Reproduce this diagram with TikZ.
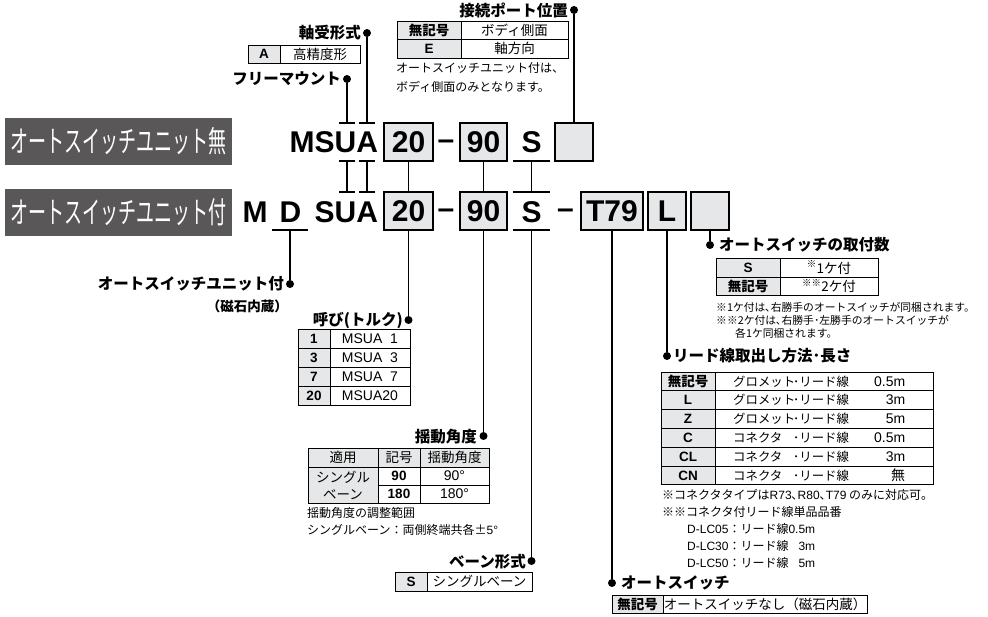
\documentclass[tikz,border=0pt]{standalone}
\usepackage{fontspec}
\setmainfont{Noto Sans CJK JP}
\newfontfamily\lat{Liberation Sans}
\newfontfamily\cond[FakeStretch=0.6]{Noto Sans CJK JP}
\definecolor{panel}{RGB}{89,87,87}
\definecolor{keygray}{RGB}{230,231,232}
\newcommand{\codefont}{\fontsize{30}{30}\selectfont\lat\bfseries}
\newcommand{\headfont}{\fontsize{15.5}{16}\selectfont\bfseries}
\newcommand{\cellfont}{\fontsize{13.5}{17}\selectfont}
\newcommand{\leadfont}{\fontsize{12.4}{14}\selectfont}
\newcommand{\notefont}{\fontsize{12}{13}\selectfont}
\newcommand{\smallnote}{\fontsize{10.8}{12}\selectfont}

\begin{document}
\begin{tikzpicture}[x=1pt, y=-1pt]
  \tikzstyle{panelbox} = [fill=panel, text=white, inner sep=0pt, minimum width=227, minimum height=47, font=\fontsize{30}{30}\selectfont\cond]
  \tikzstyle{code} = [inner sep=0pt, outer sep=0pt, font=\codefont]
  \tikzstyle{codebox} = [code, draw, line width=1.6, fill=keygray, minimum height=38]
  \tikzstyle{link} = [line width=1.3]
  \tikzstyle{dot} = [circle, fill=black, inner sep=0pt, minimum size=8]
  \tikzstyle{head} = [inner sep=0pt, font=\headfont]
  \tikzstyle{keycell} = [draw, line width=0.9, fill=keygray, inner sep=0pt, outer sep=0pt, anchor=north west, font=\cellfont\bfseries]
  \tikzstyle{txtcell} = [draw, line width=0.9, fill=white, inner sep=0pt, outer sep=0pt, anchor=north west, font=\cellfont]
  \tikzstyle{note} = [inner sep=0pt, anchor=west, font=\notefont]

  \fill[white] (0,0) rectangle (988,617);
  \useasboundingbox (0,0) rectangle (988,617);

  % left panels
  \node[panelbox] (unitNo) at (118.5,141.5) {オートスイッチユニット無};
  \node[panelbox] (unitWith) at (118.5,212.5) {オートスイッチユニット付};

  % code without unit
  \node[code, anchor=east] (msua) at (378,142) {MSUA};
  \node[codebox, minimum width=49] (sizeA) at (408.5,142) {20};
  \node[code, anchor=base] (dashA) at (446,150) {–};
  \node[codebox, minimum width=47] (angleA) at (483.5,142) {90};
  \node[code] (vaneA) at (531.5,142) {S};
  \node[codebox, minimum width=38] (portA) at (574,142) {};

  % code with unit
  \node[code] (mB) at (255,212) {M};
  \node[code] (dB) at (290.5,212) {D};
  \node[code, anchor=east] (suaB) at (378,212) {SUA};
  \node[codebox, minimum width=49] (sizeB) at (408.5,211) {20};
  \node[code, anchor=base] (dashB) at (446,219) {–};
  \node[codebox, minimum width=47] (angleB) at (483.5,211) {90};
  \node[code] (vaneB) at (531.5,212) {S};
  \node[code, anchor=base] (dashC) at (565.5,219) {–};
  \node[codebox, minimum width=62] (switchB) at (612,211) {T79};
  \node[codebox, minimum width=38] (leadB) at (667,211) {L};
  \node[codebox, minimum width=38] (countB) at (710,211) {};

  % bars under the letters
  \coordinate (uTop) at (347,123);
  \coordinate (aTop) at (367,123);
  \coordinate (uA) at (347,161);
  \coordinate (uB) at (347,192);
  \coordinate (aA) at (367,161);
  \coordinate (aB) at (367,192);
  \coordinate (sA) at (531.5,161);
  \coordinate (sB) at (531.5,192);
  \coordinate (sC) at (531.5,230);
  \coordinate (dLow) at (290,230);
  \foreach \c/\w in {uTop/8, aTop/8, uA/8, uB/8, aA/8, aB/8, sA/18.5, sB/18.5, sC/18.5, dLow/18} {
    \draw[link] ([xshift=-\w]\c) -- ([xshift=\w]\c);
  }

  % dots
  \node[dot] (dFree) at (347,79) {};
  \node[dot] (dBear) at (367,33) {};
  \node[dot] (dPort) at (574,10) {};
  \node[dot] (dUnit) at (290,284) {};
  \node[dot] (dSize) at (408.5,320) {};
  \node[dot] (dAngle) at (483.5,436) {};
  \node[dot] (dVane) at (531.5,561) {};
  \node[dot] (dSwitch) at (612,583) {};
  \node[dot] (dLead) at (667,356) {};
  \node[dot] (dCount) at (710,245) {};

  % connectors
  \draw[link] (dFree) -- (uTop);
  \draw[link] (dBear) -- (aTop);
  \draw[link] (dPort) -- (portA);
  \draw[link] (uA) -- (uB);
  \draw[link] (aA) -- (aB);
  \draw[link] (sizeA) -- (sizeB);
  \draw[link] (angleA) -- (angleB);
  \draw[link] (sA) -- (sB);
  \draw[link] (dLow) -- (dUnit);
  \draw[link] (sizeB) -- (dSize);
  \draw[link] (angleB) -- (dAngle);
  \draw[link] (sC) -- (dVane);
  \draw[link] (switchB) -- (dSwitch);
  \draw[link] (leadB) -- (dLead);
  \draw[link] (countB) -- (dCount);

  % headings
  \node[head, anchor=east] (hBear) at (361,33) {軸受形式};
  \node[head, anchor=east] (hFree) at (341,79) {フリーマウント};
  \node[head, anchor=east] (hPort) at (568,10) {接続ポート位置};
  \node[head, anchor=east] (hUnit) at (284,284) {オートスイッチユニット付};
  \node[head, anchor=east, font=\fontsize{13.5}{14}\selectfont\bfseries] (hMag) at (288,306) {（磁石内蔵）};
  \node[head, anchor=east] (hSize) at (403,320) {呼び(トルク)};
  \node[head, anchor=east] (hAngle) at (477,437) {揺動角度};
  \node[head, anchor=east] (hVane) at (526,562) {ベーン形式};
  \node[head, anchor=west] (hCount) at (719,245) {オートスイッチの取付数};
  \node[head, anchor=west] (hLead) at (673,356) {リード線取出し方法･長さ};
  \node[head, anchor=west] (hSwitch) at (621,583) {オートスイッチ};

  % bearing
  \node[keycell, font=\cellfont\lat\bfseries, minimum width=32, minimum height=18] (kBear) at (248,45) {A};
  \node[txtcell, minimum width=80, minimum height=18] (tBear) at (kBear.north east) {高精度形};

  % port
  \node[keycell, minimum width=64, minimum height=18.5] (kPort1) at (397,21) {無記号};
  \node[txtcell, minimum width=107, minimum height=18.5] (tPort1) at (kPort1.north east) {ボディ側面};
  \node[keycell, font=\cellfont\lat\bfseries, minimum width=64, minimum height=18.5] (kPort2) at (kPort1.south west) {E};
  \node[txtcell, minimum width=107, minimum height=18.5] (tPort2) at (kPort2.north east) {軸方向};
  \node[note] (nPort1) at (396,68) {オートスイッチユニット付は、};
  \node[note] (nPort2) at (396,87) {ボディ側面のみとなります。};

  % size
  \foreach \k [count=\i] in {1,3,7,20} {
    \node[keycell, font=\cellfont\lat\bfseries, minimum width=32, minimum height=19] (kSize\i) at (298,{329+19*(\i-1)}) {\k};
    \node[txtcell, font=\fontsize{14}{15}\selectfont\lat, minimum width=80, minimum height=19] (tSize\i) at (kSize\i.north east) {MSUA\hphantom{20}\llap{\k}};
  }

  % angle
  \node[keycell, font=\cellfont, minimum width=70, minimum height=19] (hdApply) at (308,448) {適用};
  \node[keycell, font=\cellfont, minimum width=42, minimum height=19] (hdSym) at (hdApply.north east) {記号};
  \node[keycell, font=\cellfont, minimum width=69, minimum height=19] (hdAng) at (hdSym.north east) {揺動角度};
  \node[keycell, font=\cellfont, minimum width=70, minimum height=36, align=center] (cApply) at (hdApply.south west) {シングル\\ベーン};
  \node[txtcell, font=\cellfont\lat\bfseries, minimum width=42, minimum height=18] (s90) at (cApply.north east) {90};
  \node[txtcell, font=\cellfont\lat\bfseries, minimum width=42, minimum height=18] (s180) at (s90.south west) {180};
  \node[txtcell, font=\fontsize{14}{15}\selectfont\lat, minimum width=69, minimum height=18] (a90) at (s90.north east) {90°};
  \node[txtcell, font=\fontsize{14}{15}\selectfont\lat, minimum width=69, minimum height=18] (a180) at (a90.south west) {180°};
  \node[note] (nAngle1) at (307,513) {揺動角度の調整範囲};
  \node[note] (nAngle2) at (307,530) {シングルベーン：両側終端共各±{\lat 5°}};

  % vane
  \node[keycell, font=\cellfont\lat\bfseries, minimum width=32, minimum height=19] (kVane) at (395,572) {S};
  \node[txtcell, minimum width=105, minimum height=19] (tVane) at (kVane.north east) {シングルベーン};

  % switch
  \node[keycell, minimum width=51, minimum height=18] (kSwitch) at (612,595) {無記号};
  \node[txtcell, minimum width=204, minimum height=18] (tSwitch) at (kSwitch.north east) {オートスイッチなし（磁石内蔵）};

  % number of switches
  \node[keycell, font=\cellfont\lat\bfseries, minimum width=64, minimum height=19] (kCount1) at (716,258) {S};
  \node[txtcell, minimum width=98, minimum height=19] (tCount1) at (kCount1.north east) {\textsuperscript{※}1ケ付};
  \node[keycell, minimum width=64, minimum height=18] (kCount2) at (kCount1.south west) {無記号};
  \node[txtcell, minimum width=98, minimum height=18] (tCount2) at (kCount2.north east) {\textsuperscript{※※}2ケ付};
  \node[note, font=\smallnote] (nCount1) at (716,307) {※1ケ付は､右勝手のオートスイッチが同梱されます。};
  \node[note, font=\smallnote] (nCount2) at (716,320) {※※2ケ付は､右勝手･左勝手のオートスイッチが};
  \node[note, font=\smallnote] (nCount3) at (735,333) {各1ケ同梱されます。};

  % lead wire
  \foreach \k/\a/\m [count=\i] in {無記号/グロメット/{\lat 0.5m}, {\lat L}/グロメット/{\lat 3m}, {\lat Z}/グロメット/{\lat 5m}, {\lat C}/コネクタ/{\lat 0.5m}, {\lat CL}/コネクタ/{\lat 3m}, {\lat CN}/コネクタ/無} {
    \node[keycell, minimum width=54, minimum height=18.8] (kLead\i) at (661,{372+18.8*(\i-1)}) {\k};
    \node[txtcell, minimum width=218, minimum height=18.8] (tLead\i) at (kLead\i.north east) {};
    \node[inner sep=0pt, anchor=west, font=\leadfont] (xLead\i) at ([xshift=18]tLead\i.west) {\makebox[60pt][l]{\a}\makebox[72pt][l]{･リード線}\makebox[40pt][r]{\fontsize{14}{15}\selectfont\m}};
  }
  \node[note] (nLead1) at (662,495) {※コネクタタイプは{\lat R73}､{\lat R80}､{\lat T79} のみに対応可。};
  \node[note] (nLead2) at (662,512) {※※コネクタ付リード線単品品番};
  \node[note] (nLead3) at (687,529) {{\lat D-LC05}：リード線{\lat 0.5m}};
  \node[note] (nLead4) at (687,546) {{\lat D-LC30}：リード線{\lat\phantom{0.}3m}};
  \node[note] (nLead5) at (687,563) {{\lat D-LC50}：リード線{\lat\phantom{0.}5m}};
\end{tikzpicture}
\end{document}
